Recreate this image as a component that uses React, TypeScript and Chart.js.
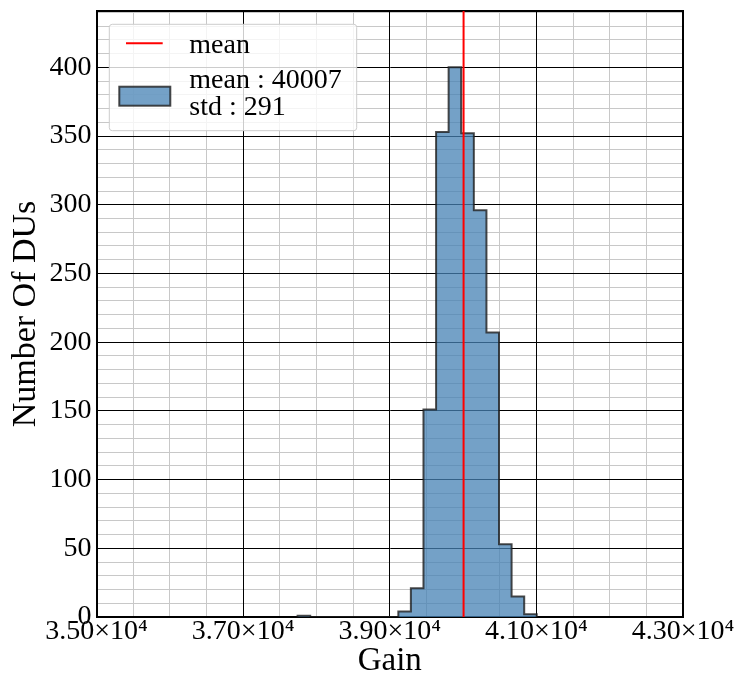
import React, { useEffect, useRef } from 'react';
import { Chart, registerables } from 'chart.js';

Chart.register(...registerables);

// ---- data ----
const BIN_EDGES = [
  37743, 37915, 38086, 38258, 38430, 38602, 38773, 38945, 39117, 39288,
  39460, 39632, 39803, 39975, 40147, 40319, 40490, 40662, 40834, 41005,
];
const COUNTS = [1, 0, 0, 0, 0, 0, 0, 0, 4, 21, 151, 353, 400, 352, 296, 207, 53, 15, 2];
const MEAN = 40007;
const STD = 291;
const X_RANGE = [35000, 43000];
const Y_RANGE = [0, 441];
const X_TICKS = [35000, 37000, 39000, 41000, 43000];
const X_TICK_LABELS = ['3.50×10⁴', '3.70×10⁴', '3.90×10⁴', '4.10×10⁴', '4.30×10⁴'];
const Y_TICKS = [0, 50, 100, 150, 200, 250, 300, 350, 400];
const X_MAJOR_STEP = 2000;
const Y_MAJOR_STEP = 50;
const X_MINOR_STEP = 500;
const Y_MINOR_STEP = 10;

const FONT = "'Liberation Serif', 'Times New Roman', serif";
const FILL = 'rgba(70,130,180,0.75)';
const EDGE = 'rgba(30,30,30,0.8)';
const MINOR_GRID = '#c8c8c8';

function histPoints() {
  const pts: { x: number; y: number }[] = [{ x: BIN_EDGES[0], y: 0 }];
  for (let i = 0; i < COUNTS.length; i++) {
    pts.push({ x: BIN_EDGES[i], y: COUNTS[i] });
    pts.push({ x: BIN_EDGES[i + 1], y: COUNTS[i] });
  }
  pts.push({ x: BIN_EDGES[BIN_EDGES.length - 1], y: 0 });
  return pts;
}

const boxLegend = {
  id: 'boxLegend',
  afterDatasetsDraw(chart: any) {
    const { ctx, chartArea } = chart;
    const ds = chart.data.datasets;
    const L = chartArea.left + 12.8;
    const T = chartArea.top + 13.3;
    const W = 247.4;
    const H = 106.4;
    ctx.save();
    ctx.beginPath();
    const r = 3;
    ctx.moveTo(L + r, T);
    ctx.lineTo(L + W - r, T);
    ctx.quadraticCurveTo(L + W, T, L + W, T + r);
    ctx.lineTo(L + W, T + H - r);
    ctx.quadraticCurveTo(L + W, T + H, L + W - r, T + H);
    ctx.lineTo(L + r, T + H);
    ctx.quadraticCurveTo(L, T + H, L, T + H - r);
    ctx.lineTo(L, T + r);
    ctx.quadraticCurveTo(L, T, L + r, T);
    ctx.closePath();
    ctx.fillStyle = 'rgba(255,255,255,0.8)';
    ctx.fill();
    ctx.strokeStyle = '#cccccc';
    ctx.lineWidth = 1;
    ctx.stroke();

    // entry 1: mean line
    ctx.beginPath();
    ctx.moveTo(L + 16.7, T + 19);
    ctx.lineTo(L + 53.4, T + 19);
    ctx.strokeStyle = ds[0].borderColor;
    ctx.lineWidth = 2;
    ctx.stroke();

    // entry 2: histogram patch
    ctx.fillStyle = ds[1].backgroundColor;
    ctx.fillRect(L + 10, T + 62.4, 51, 19);
    ctx.strokeStyle = ds[1].borderColor;
    ctx.lineWidth = 2;
    ctx.strokeRect(L + 10, T + 62.4, 51, 19);

    ctx.fillStyle = '#000';
    ctx.font = `28px ${FONT}`;
    ctx.textBaseline = 'alphabetic';
    ctx.textAlign = 'left';
    ctx.fillText(ds[0].label, L + 80, T + 28.4);
    const lines = String(ds[1].label).split('\n');
    ctx.fillText(lines[0], L + 80, T + 64);
    ctx.fillText(lines[1], L + 80, T + 90.7);
    ctx.restore();
  },
};

function minorColor(origin: number, major: number) {
  return (c: any) => {
    if (!c.tick) return MINOR_GRID;
    const r = Math.abs((c.tick.value - origin) % major);
    return r < 1e-6 ? 'rgba(0,0,0,0)' : MINOR_GRID;
  };
}

export default function App() {
  const ref = useRef<HTMLCanvasElement>(null);

  useEffect(() => {
    if (!ref.current) return;
    const tickFont = { family: FONT, size: 28, lineHeight: 1 };
    const chart = new Chart(ref.current, {
      type: 'line',
      data: {
        datasets: [
          {
            label: 'mean',
            data: [
              { x: MEAN, y: Y_RANGE[0] },
              { x: MEAN, y: Y_RANGE[1] },
            ],
            borderColor: '#ff0000',
            borderWidth: 2,
            pointRadius: 0,
            fill: false,
            xAxisID: 'x',
            yAxisID: 'y',
          },
          {
            label: `mean : ${MEAN}\nstd : ${STD}`,
            data: histPoints(),
            borderColor: EDGE,
            backgroundColor: FILL,
            borderWidth: 2,
            pointRadius: 0,
            fill: 'origin',
            tension: 0,
            borderJoinStyle: 'miter',
            xAxisID: 'x',
            yAxisID: 'y',
          },
        ],
      },
      options: {
        animation: false,
        responsive: false,
        maintainAspectRatio: false,
        events: [],
        layout: { padding: { top: 11, right: 59, left: 0, bottom: 0 } },
        plugins: { legend: { display: false }, tooltip: { enabled: false } },
        scales: {
          xMinor: {
            type: 'linear',
            axis: 'x',
            position: 'bottom',
            min: X_RANGE[0],
            max: X_RANGE[1],
            afterBuildTicks: (s: any) => {
              const t: any[] = [];
              for (let v = X_RANGE[0]; v <= X_RANGE[1]; v += X_MINOR_STEP) t.push({ value: v });
              s.ticks = t;
            },
            afterFit: (s: any) => {
              s.height = 0;
              s.paddingLeft = 0;
              s.paddingRight = 0;
            },
            ticks: { display: false },
            grid: { drawTicks: false, lineWidth: 1, color: minorColor(X_RANGE[0], X_MAJOR_STEP) },
            border: { display: false },
          },
          yMinor: {
            type: 'linear',
            axis: 'y',
            position: 'left',
            min: Y_RANGE[0],
            max: Y_RANGE[1],
            afterBuildTicks: (s: any) => {
              const t: any[] = [];
              for (let v = Y_RANGE[0]; v <= Y_RANGE[1]; v += Y_MINOR_STEP) t.push({ value: v });
              s.ticks = t;
            },
            afterFit: (s: any) => {
              s.width = 0;
              s.paddingTop = 0;
              s.paddingBottom = 0;
            },
            ticks: { display: false },
            grid: { drawTicks: false, lineWidth: 1, color: minorColor(Y_RANGE[0], Y_MAJOR_STEP) },
            border: { display: false },
          },
          x: {
            type: 'linear',
            axis: 'x',
            position: 'bottom',
            min: X_RANGE[0],
            max: X_RANGE[1],
            afterBuildTicks: (s: any) => {
              s.ticks = X_TICKS.map((v) => ({ value: v }));
            },
            afterFit: (s: any) => {
              s.height = 60;
              s.paddingLeft = 0;
              s.paddingRight = 0;
            },
            ticks: {
              callback: (_v: any, i: number) => X_TICK_LABELS[i],
              font: tickFont,
              color: '#000',
              padding: 1,
              maxRotation: 0,
              minRotation: 0,
              autoSkip: false,
            },
            grid: { color: '#000000', lineWidth: 1, drawTicks: false },
            border: { display: true, color: '#000', width: 2 },
            title: {
              display: true,
              text: 'Gain',
              color: '#000',
              font: { family: FONT, size: 33, lineHeight: 0.92 },
              padding: { top: 0, bottom: 0 },
            },
          },
          xTop: {
            type: 'linear',
            axis: 'x',
            position: 'top',
            min: X_RANGE[0],
            max: X_RANGE[1],
            afterFit: (s: any) => {
              s.height = 0;
              s.paddingLeft = 0;
              s.paddingRight = 0;
            },
            ticks: { display: false },
            grid: { display: false, drawTicks: false },
            border: { display: true, color: '#000', width: 2 },
          },
          y: {
            type: 'linear',
            axis: 'y',
            position: 'left',
            min: Y_RANGE[0],
            max: Y_RANGE[1],
            afterBuildTicks: (s: any) => {
              s.ticks = Y_TICKS.map((v) => ({ value: v }));
            },
            afterFit: (s: any) => {
              s.width = 96.5;
              s.paddingTop = 0;
              s.paddingBottom = 0;
            },
            ticks: { font: tickFont, color: '#000', padding: 5 },
            grid: { color: '#000000', lineWidth: 1, drawTicks: false },
            border: { display: true, color: '#000', width: 2 },
            title: {
              display: true,
              text: 'Number Of DUs',
              color: '#000',
              font: { family: FONT, size: 34, lineHeight: 1 },
              padding: { top: 9.5, bottom: 0 },
            },
          },
          yRight: {
            type: 'linear',
            axis: 'y',
            position: 'right',
            min: Y_RANGE[0],
            max: Y_RANGE[1],
            afterFit: (s: any) => {
              s.width = 0;
              s.paddingTop = 0;
              s.paddingBottom = 0;
            },
            ticks: { display: false },
            grid: { display: false, drawTicks: false },
            border: { display: true, color: '#000', width: 2 },
          },
        },
      } as any,
      plugins: [boxLegend],
    });
    return () => chart.destroy();
  }, []);

  return (
    <div style={{ position: 'absolute', left: 0, top: 0, width: 742, height: 677, background: '#fff' }}>
      <canvas ref={ref} width={742} height={677} style={{ display: 'block' }} />
    </div>
  );
}
